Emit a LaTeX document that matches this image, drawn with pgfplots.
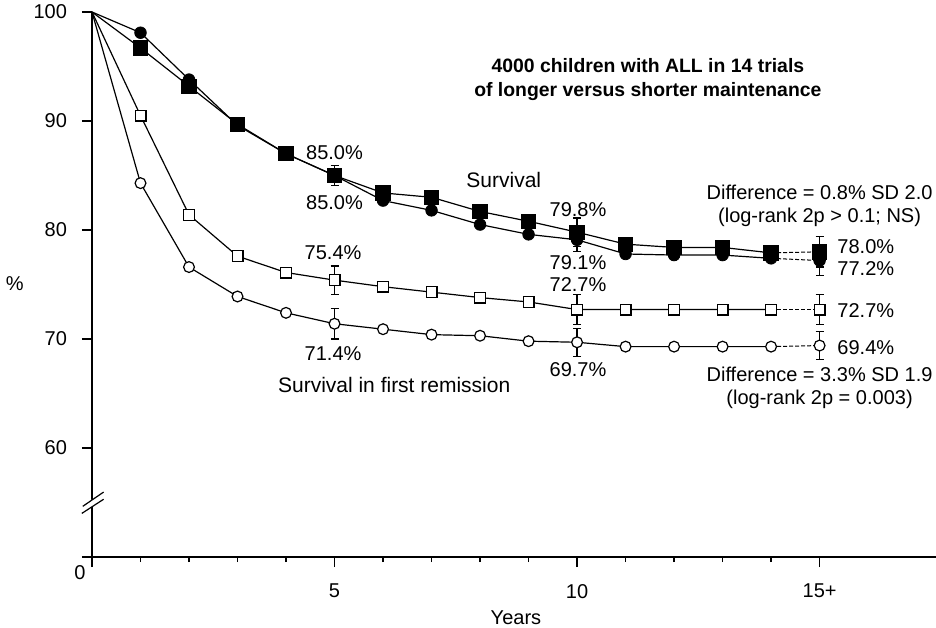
\documentclass[border=0pt]{standalone}
\usepackage{fontspec}
\setmainfont{Liberation Sans}
\usepackage{pgfplots}
\pgfplotsset{compat=1.18}
\begin{document}
\begin{tikzpicture}
\begin{axis}[
  at={(0,0)}, anchor=south west,
  scale only axis, width=422pt, height=272.5pt,
  xmin=0, xmax=17.4, ymin=50, ymax=100,
  axis lines=left, axis line style={-, line width=1.1pt},
  clip=false,
  xtick={0,5,10,15}, xticklabels={,5,10,15+},
  minor xtick={1,2,3,4,6,7,8,9,11,12,13,14},
  ytick={50,60,70,80,90,100}, yticklabels={,60,70,80,90,100},
  tick align=outside, major tick length=5pt, minor tick length=2.5pt,
  tick style={black, line width=0.6pt},
  /pgf/number format/assume math mode=true,
  ticklabel style={font=\fontsize{10}{12}\selectfont},
  xticklabel style={yshift=-5pt},
  yticklabel style={xshift=-4pt},
]
% connecting lines
\addplot[black, line width=0.6pt, no markers] coordinates {(0,100)(1,98.1)(2,93.8)(3,89.6)(4,87.0)(5,85.0)(6,82.7)(7,81.8)(8,80.5)(9,79.6)(10,79.1)(11,77.8)(12,77.7)(13,77.7)(14,77.4)};
\addplot[black, line width=0.6pt, no markers] coordinates {(0,100)(1,96.7)(2,93.2)(3,89.7)(4,87.0)(5,85.0)(6,83.4)(7,83.0)(8,81.7)(9,80.8)(10,79.8)(11,78.7)(12,78.4)(13,78.4)(14,77.9)};
\addplot[black, line width=0.6pt, no markers] coordinates {(0,100)(1,90.5)(2,81.4)(3,77.6)(4,76.1)(5,75.4)(6,74.8)(7,74.3)(8,73.8)(9,73.4)(10,72.7)(11,72.7)(12,72.7)(13,72.7)(14,72.7)};
\addplot[black, line width=0.6pt, no markers] coordinates {(0,100)(1,84.3)(2,76.6)(3,73.9)(4,72.4)(5,71.4)(6,70.9)(7,70.4)(8,70.3)(9,69.8)(10,69.7)(11,69.3)(12,69.3)(13,69.3)(14,69.3)};
% dashed extensions
\addplot[black, line width=0.5pt, dash pattern=on 2pt off 1pt, no markers] coordinates {(14,77.4)(15,77.2)};
\addplot[black, line width=0.5pt, dash pattern=on 2pt off 1pt, no markers] coordinates {(14,77.9)(15,78.0)};
\addplot[black, line width=0.5pt, dash pattern=on 2pt off 1pt, no markers] coordinates {(14,72.7)(15,72.7)};
\addplot[black, line width=0.5pt, dash pattern=on 2pt off 1pt, no markers] coordinates {(14,69.3)(15,69.4)};
% markers
\addplot[only marks, mark=*, mark size=2.9pt, black] coordinates {(1,98.1)(2,93.8)(3,89.6)(4,87.0)(5,85.0)(6,82.7)(7,81.8)(8,80.5)(9,79.6)(10,79.1)(11,77.8)(12,77.7)(13,77.7)(14,77.4)(15,77.2)};
\addplot[only marks, mark=square*, mark size=3.6pt, black] coordinates {(1,96.7)(2,93.2)(3,89.7)(4,87.0)(5,85.0)(6,83.4)(7,83.0)(8,81.7)(9,80.8)(10,79.8)(11,78.7)(12,78.4)(13,78.4)(14,77.9)(15,78.0)};
\addplot[only marks, mark=square*, mark size=2.7pt, draw=black, mark options={fill=white, line width=0.6pt}] coordinates {(1,90.5)(2,81.4)(3,77.6)(4,76.1)(5,75.4)(6,74.8)(7,74.3)(8,73.8)(9,73.4)(10,72.7)(11,72.7)(12,72.7)(13,72.7)(14,72.7)(15,72.7)};
\addplot[only marks, mark=*, mark size=2.7pt, draw=black, mark options={fill=white, line width=0.6pt}] coordinates {(1,84.3)(2,76.6)(3,73.9)(4,72.4)(5,71.4)(6,70.9)(7,70.4)(8,70.3)(9,69.8)(10,69.7)(11,69.3)(12,69.3)(13,69.3)(14,69.3)(15,69.4)};
% error bars
\addplot[draw=none, mark=none, black, line width=0.6pt, error bars/.cd, y dir=both, y explicit, error mark options={rotate=90, mark size=2pt, black, line width=0.6pt}, error bar style={black, line width=0.6pt}] coordinates {
 (5,85.0) +- (0,0.9) (10,79.8) +- (0,1.3) (10,79.1) +- (0,1.1) (15,78.0) +- (0,1.4) (15,77.2) +- (0,1.4)
 (5,75.4) +- (0,1.3) (10,72.7) +- (0,1.4) (15,72.7) +- (0,1.4)
 (5,71.4) +- (0,1.4) (10,69.7) +- (0,1.3) (15,69.4) +- (0,1.3)};
% axis break
\fill[white] (axis cs:-0.2,54.04) -- (axis cs:0.24,55.3) -- (axis cs:0.24,55.96) -- (axis cs:-0.2,54.7) -- cycle;
\draw[black, line width=0.6pt] (axis cs:-0.21,54.0) -- (axis cs:0.24,55.3);
\draw[black, line width=0.6pt] (axis cs:-0.19,54.65) -- (axis cs:0.24,55.96);
% texts
\begin{scope}[every node/.style={font=\fontsize{10}{12}\selectfont, inner sep=0pt}]
\node[align=center, font=\fontsize{9.7}{12}\selectfont\bfseries] at (axis cs:11.46,93.85) {4000 children with ALL in 14 trials\\of longer versus shorter maintenance};
\node at (axis cs:5.0,87.1) {85.0\%};
\node at (axis cs:5.0,82.5) {85.0\%};
\node[font=\fontsize{10.5}{12}\selectfont] at (axis cs:8.49,84.6) {Survival};
\node at (axis cs:10.02,81.9) {79.8\%};
\node at (axis cs:10.02,77.0) {79.1\%};
\node at (axis cs:10.02,75.0) {72.7\%};
\node at (axis cs:4.97,77.9) {75.4\%};
\node at (axis cs:4.97,68.7) {71.4\%};
\node at (axis cs:10.02,67.2) {69.7\%};
\node[font=\fontsize{10.5}{12}\selectfont] at (axis cs:6.23,65.8) {Survival in first remission};
\node[anchor=west] at (axis cs:15.36,78.45) {78.0\%};
\node[anchor=west] at (axis cs:15.36,76.5) {77.2\%};
\node[anchor=west] at (axis cs:15.36,72.65) {72.7\%};
\node[anchor=west] at (axis cs:15.36,69.2) {69.4\%};
\node[align=center, font=\fontsize{10}{11.5}\selectfont] at (axis cs:15.0,82.2) {Difference = 0.8\% SD 2.0\\(log-rank 2p > 0.1; NS)};
\node[align=center, font=\fontsize{10}{11.5}\selectfont] at (axis cs:15.0,65.55) {Difference = 3.3\% SD 1.9\\(log-rank 2p = 0.003)};
\node at (axis cs:-1.59,75.1) {\%};
\node at (axis cs:8.74,44.4) {Years};
\node at (axis cs:-0.25,48.6) {0};
\end{scope}
\end{axis}
\pgfresetboundingbox
\path (-46pt,-35pt) rectangle (422pt,278.5pt);
\end{tikzpicture}
\end{document}
